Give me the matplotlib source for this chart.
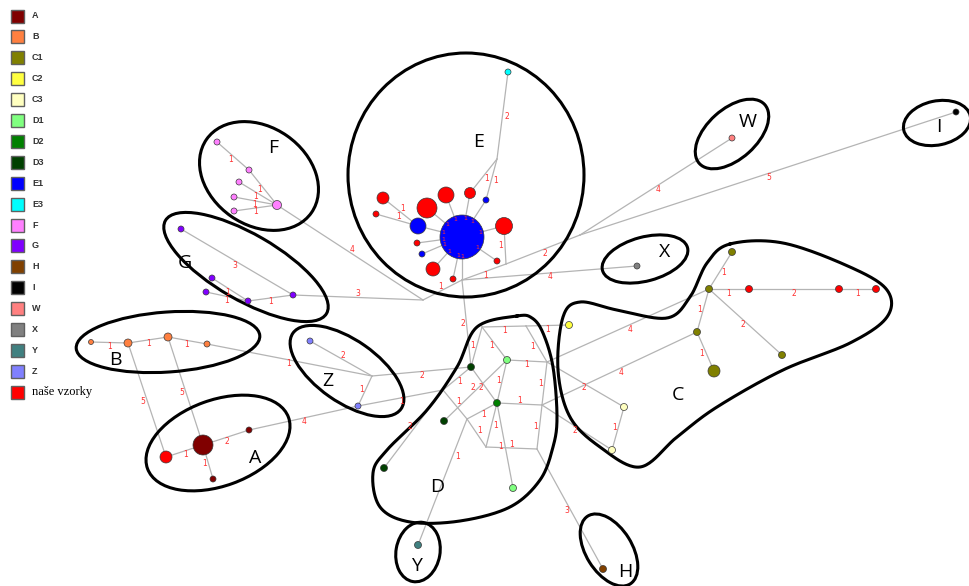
import numpy as np
import matplotlib.pyplot as plt
from matplotlib.patches import Circle, Ellipse, Rectangle

# legend groups and colours
groups = ['A', 'B', 'C1', 'C2', 'C3', 'D1', 'D2', 'D3', 'E1', 'E3', 'F', 'G', 'H',
          'I', 'W', 'X', 'Y', 'Z', 'naše vzorky']
group_colors = ['#800000', '#ff8040', '#808000', '#ffff40', '#ffffc0', '#80ff80',
                '#008000', '#004000', '#0000ff', '#00ffff', '#ff80ff', '#8000ff',
                '#804000', '#000000', '#ff8080', '#808080', '#408080', '#8080ff', '#ff0000']
COL = dict(zip(groups, group_colors))
COL['R'] = '#ff0000'

# haplotypes: name -> (x, y, radius, group)   (group None = median vector)
nodes = {
    # E
    'e_c': (462, 237, 22, 'E1'), 'e_b1': (418, 226, 8, 'E1'), 'e_b2': (486, 200, 3, 'E1'),
    'e_b3': (422, 254, 3, 'E1'), 'e_cy': (508, 72, 3, 'E3'),
    'e_r1': (383, 198, 6, 'R'), 'e_r2': (376, 214, 3, 'R'), 'e_r3': (427, 208, 10, 'R'),
    'e_r4': (446, 195, 8, 'R'), 'e_r5': (470, 193, 5.5, 'R'), 'e_r6': (504, 226, 8.5, 'R'),
    'e_r7': (417, 243, 3, 'R'), 'e_r8': (433, 269, 7, 'R'), 'e_r9': (497, 261, 3, 'R'),
    'e_r10': (453, 279, 3, 'R'), 'jE': (497, 159, 0, None),
    # F
    'f_c': (277, 205, 4.5, 'F'), 'f1': (217, 142, 3, 'F'), 'f2': (249, 170, 3, 'F'),
    'f3': (239, 182, 3, 'F'), 'f4': (234, 197, 3, 'F'), 'f5': (234, 211, 3, 'F'),
    # G
    'g1': (181, 229, 3, 'G'), 'g2': (293, 295, 3, 'G'), 'g3': (212, 278, 3, 'G'),
    'g4': (206, 292, 3, 'G'), 'g5': (248, 301, 3, 'G'),
    # B
    'b1': (91, 342, 2.5, 'B'), 'b2': (128, 343, 4, 'B'), 'b3': (168, 337, 4, 'B'),
    'b4': (207, 344, 3, 'B'),
    # A
    'a_c': (203, 445, 10, 'A'), 'a1': (249, 430, 3, 'A'), 'a2': (213, 479, 3, 'A'),
    'a_r': (166, 457, 6, 'R'),
    # Z
    'z1': (310, 341, 3, 'Z'), 'z2': (358, 406, 3, 'Z'), 'jZ': (372, 376, 0, None),
    # D
    'd3a': (471, 367, 3.5, 'D3'), 'd1a': (507, 360, 3.5, 'D1'), 'd2': (497, 403, 3.5, 'D2'),
    'd3b': (444, 421, 3.5, 'D3'), 'd3c': (384, 468, 3.5, 'D3'), 'd1b': (513, 488, 3.5, 'D1'),
    'ja': (482, 327, 0, None), 'jb': (526, 326, 0, None), 'jh': (547, 362, 0, None),
    'jc': (542, 405, 0, None), 'jd': (537, 449, 0, None), 'je': (486, 447, 0, None),
    'jf': (467, 419, 0, None), 'jg': (443, 390, 0, None),
    # C
    'c2': (569, 325, 3.5, 'C2'), 'c3a': (624, 407, 3.5, 'C3'), 'c3b': (612, 450, 3.5, 'C3'),
    'c1t': (732, 252, 3.5, 'C1'), 'c1h': (709, 289, 3.5, 'C1'), 'c1m': (697, 332, 3.5, 'C1'),
    'c1big': (714, 371, 6, 'C1'), 'c1r': (782, 355, 3.5, 'C1'),
    'c_r1': (749, 289, 3.5, 'R'), 'c_r2': (839, 289, 3.5, 'R'), 'c_r3': (876, 289, 3.5, 'R'),
    # others
    'x': (637, 266, 3, 'X'), 'w': (732, 138, 3, 'W'), 'i': (956, 112, 3, 'I'),
    'y': (418, 545, 3.5, 'Y'), 'h': (603, 569, 3.5, 'H'),
    # hubs
    'hub': (462, 280, 0, None), 'jfg': (423, 300, 0, None), 'jr': (506, 264, 0, None),
    'jw': (580, 235, 0, None),
}

# links: (from, to, number of mutations)
edges = [
    ('e_c', 'e_b1', 1), ('e_b1', 'e_r1', 1), ('e_b1', 'e_r2', 1), ('e_c', 'e_r3', 1),
    ('e_c', 'e_r4', 1), ('e_c', 'e_r5', 1), ('e_c', 'e_b2', 1), ('e_r5', 'jE', 1),
    ('e_b2', 'jE', 1), ('jE', 'e_cy', 2), ('e_c', 'e_r6', 1), ('e_c', 'e_r7', 1),
    ('e_c', 'e_b3', 1), ('e_c', 'e_r8', 1), ('e_c', 'e_r10', 1), ('e_c', 'e_r9', 1),
    ('e_c', 'hub', 1), ('e_r6', 'jr', 1), ('hub', 'jr', 1), ('jr', 'jw', 2),
    ('jw', 'w', 4), ('jw', 'i', 5), ('hub', 'x', 4), ('hub', 'jfg', 1),
    ('jfg', 'f_c', 4), ('jfg', 'g2', 3),
    ('f1', 'f2', 1), ('f2', 'f_c', 1), ('f3', 'f_c', 1), ('f4', 'f_c', 1), ('f5', 'f_c', 1),
    ('g1', 'g2', 3), ('g3', 'g5', 1), ('g4', 'g5', 1), ('g5', 'g2', 1),
    ('b1', 'b2', 1), ('b2', 'b3', 1), ('b3', 'b4', 1), ('b4', 'jZ', 1),
    ('b2', 'a_r', 5), ('b3', 'a_c', 5), ('a_r', 'a_c', 1), ('a_c', 'a1', 2), ('a_c', 'a2', 1),
    ('a1', 'z2', 4), ('jZ', 'z1', 2), ('jZ', 'z2', 1), ('jZ', 'd3a', 2), ('z2', 'jg', 1),
    ('hub', 'd3a', 2), ('ja', 'd3a', 1), ('ja', 'd1a', 1), ('ja', 'jb', 1), ('jb', 'c2', 1),
    ('jb', 'jh', 1), ('d1a', 'jh', 1), ('jh', 'c1h', 4), ('jh', 'c3a', 2), ('jh', 'jc', 1),
    ('jc', 'd2', 1), ('jc', 'c1m', 4), ('jc', 'c3b', 2), ('jc', 'jd', 1), ('jd', 'je', 1),
    ('jd', 'h', 3), ('je', 'd2', 1), ('je', 'jf', 1), ('jf', 'd2', 1), ('jf', 'jg', 1),
    ('jg', 'd3a', 1), ('d3a', 'd2', 2), ('d1a', 'd2', 1), ('d1a', 'd3b', 2),
    ('jg', 'd3c', 2), ('d2', 'd1b', 1), ('jf', 'y', 1),
    ('c1h', 'c1t', 1), ('c1h', 'c_r1', 1), ('c_r1', 'c_r2', 2), ('c_r2', 'c_r3', 1),
    ('c1h', 'c1m', 1), ('c1m', 'c1big', 1), ('c1h', 'c1r', 2), ('c3a', 'c3b', 1),
]

# cluster outlines: (x, y, width, height, angle)
ellipses = {
    'F': (259, 176, 128, 98, 35), 'G': (246, 267, 186, 66, 30), 'B': (168, 342, 184, 60, -4),
    'A': (218, 443, 150, 86, -20), 'Z': (347, 371, 132, 62, 35), 'W': (732, 134, 88, 50, -42),
    'I': (937, 123, 68, 44, -12), 'X': (645, 259, 88, 44, -15), 'Y': (418, 552, 60, 44, 100),
    'H': (609, 550, 80, 46, 58), 'E': (466, 175, 236, 244, 0),
}
D_outline = [(517, 316), (532, 318), (543, 333), (553, 367), (557, 417), (553, 447),
             (540, 480), (510, 507), (460, 521), (410, 522), (380, 507), (373, 473),
             (387, 450), (427, 410), (457, 367), (477, 327)]
C_outline = [(730, 244), (783, 243), (850, 267), (887, 290), (887, 317), (850, 343),
             (783, 370), (717, 407), (677, 437), (640, 467), (600, 447), (570, 417),
             (558, 370), (563, 317), (580, 302), (617, 310), (667, 318), (690, 297),
             (707, 263)]
cluster_labels = {'E': (479, 142), 'F': (273, 148), 'G': (185, 263), 'B': (115, 360),
                  'A': (255, 458), 'Z': (328, 381), 'D': (437, 487), 'Y': (416, 566),
                  'H': (625, 572), 'C': (678, 395), 'X': (665, 252), 'W': (748, 122),
                  'I': (939, 127)}


def closed_curve(pts, n=24):
    pts = np.array(pts, dtype=float)
    out = []
    N = len(pts)
    t = np.linspace(0, 1, n, endpoint=False)[:, None]
    for k in range(N):
        p0, p1, p2, p3 = pts[k - 1], pts[k], pts[(k + 1) % N], pts[(k + 2) % N]
        out.append(0.5 * (2 * p1 + (-p0 + p2) * t + (2 * p0 - 5 * p1 + 4 * p2 - p3) * t ** 2
                          + (-p0 + 3 * p1 - 3 * p2 + p3) * t ** 3))
    out = np.vstack(out)
    return np.vstack([out, out[:1]])


fig = plt.figure(figsize=(9.69, 5.86), dpi=100)
ax = fig.add_axes([0, 0, 1, 1])
ax.set_xlim(0, 969)
ax.set_ylim(586, 0)
ax.axis('off')

# edges
for a, b, m in edges:
    x1, y1 = nodes[a][:2]
    x2, y2 = nodes[b][:2]
    ax.plot([x1, x2], [y1, y2], color='#b4b4b4', lw=0.9, zorder=2)
    d = np.hypot(x2 - x1, y2 - y1)
    ux, uy = (x2 - x1) / d, (y2 - y1) / d
    fs = 5.5
    if nodes[a][2] > 15:
        # ticks sit on the rim of the big central haplotype
        px, py = x1 + ux * (nodes[a][2] - 3), y1 + uy * (nodes[a][2] - 3)
        fs = 4.5
    elif b == 'y':
        px, py = x1 + (x2 - x1) * 0.3 + 5, y1 + (y2 - y1) * 0.3
    else:
        px, py = (x1 + x2) / 2 - uy * 4, (y1 + y2) / 2 + ux * 4
    ax.text(px, py, str(m), color='#ff3030', fontsize=fs, ha='center', va='center', zorder=6)

# haplotype circles
for name, (x, y, r, g) in nodes.items():
    if g is None:
        continue
    ax.add_patch(Circle((x, y), r, facecolor=COL[g], edgecolor='#3a3a3a', lw=0.5, zorder=5))

# cluster outlines
for key, (x, y, w, h, ang) in ellipses.items():
    ax.add_patch(Ellipse((x, y), w, h, angle=ang, fill=False, edgecolor='black', lw=2.2, zorder=4))
for pts in (D_outline, C_outline):
    cv = closed_curve(pts)
    ax.plot(cv[:, 0], cv[:, 1], color='black', lw=2.2, zorder=4)

for key, (x, y) in cluster_labels.items():
    ax.text(x, y, key, fontsize=14, family='Open Sans', ha='center', va='center', zorder=7)

# legend
for k, (g, c) in enumerate(zip(groups, group_colors)):
    yc = 16 + k * 20.9
    ax.add_patch(Rectangle((11, yc - 6.5), 13, 13, facecolor=c, edgecolor='#606060', lw=1, zorder=5))
    if g == 'naše vzorky':
        ax.text(32, yc, g, fontsize=9, family='Liberation Serif', va='center')
    else:
        ax.text(32, yc, g, fontsize=6.5, family='Liberation Sans', fontweight='bold',
                color='#333333', va='center')

fig.savefig('out.png', dpi=100)
